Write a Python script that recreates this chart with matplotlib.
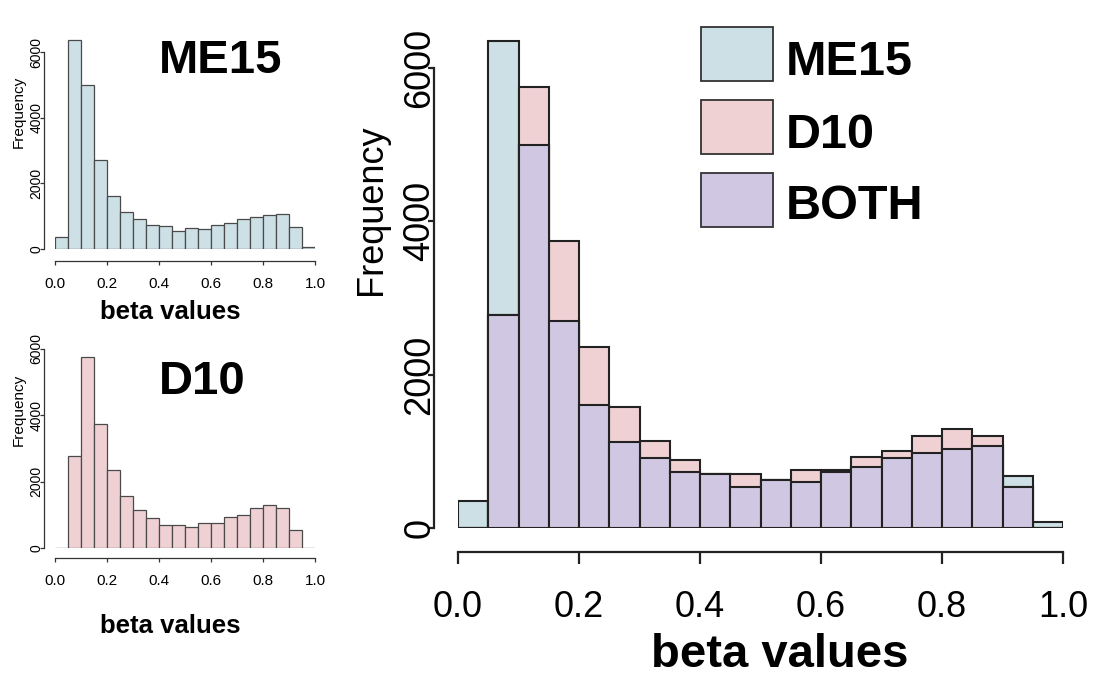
import numpy as np
import matplotlib
matplotlib.use("Agg")
import matplotlib.pyplot as plt
from matplotlib.patches import Rectangle

plt.rcParams['font.family'] = ['Liberation Sans', 'DejaVu Sans']

# histogram counts, 20 bins of width 0.05 over [0, 1]
bin_edges = np.linspace(0.0, 1.0, 21)
me15_counts = [355, 6355, 5000, 2705, 1600, 1120, 915, 730, 704, 535,
               632, 600, 726, 790, 912, 978, 1030, 1072, 672, 72]
d10_counts = [0, 2775, 5750, 3745, 2365, 1580, 1135, 890, 704, 698,
              630, 762, 758, 922, 1005, 1200, 1295, 1200, 540, 0]
x_ticks = [0.0, 0.2, 0.4, 0.6, 0.8, 1.0]
y_ticks = [0, 2000, 4000, 6000]
legend_labels = ["ME15", "D10", "BOTH"]

c_me15 = "#cde0e5"
c_d10 = "#efd1d4"
c_both = "#d0c8e2"

W, H = 1103, 677
fig = plt.figure(figsize=(W / 100, H / 100), dpi=100)
fig.patch.set_facecolor("white")


def px_axes(x0, x1, y0, y6000, ymax=6500):
    # axes where data x 0..1 -> px x0..x1 and y 0 -> y0, 6000 -> y6000
    h = (y0 - y6000) * ymax / 6000.0
    ax = fig.add_axes([x0 / W, 1 - y0 / H, (x1 - x0) / W, h / H])
    ax.set_xlim(0, 1)
    ax.set_ylim(0, ymax)
    ax.patch.set_alpha(0)
    for s in ["top", "right"]:
        ax.spines[s].set_visible(False)
    ax.spines["left"].set_bounds(0, 6000)
    ax.spines["bottom"].set_bounds(0, 1)
    return ax


def finish_ticks(ax):
    ax.set_xticks(x_ticks)
    ax.set_xticklabels(["%.1f" % t for t in x_ticks])
    ax.set_yticks(y_ticks)
    ax.set_yticklabels([str(t) for t in y_ticks])
    ax.tick_params(axis="y", labelrotation=90)
    for lbl in ax.get_yticklabels():
        lbl.set_horizontalalignment("center")
        lbl.set_verticalalignment("center")


def fx(px):
    return px / W


def fy(px):
    return 1 - px / H


lefts = bin_edges[:-1]
widths = np.diff(bin_edges)

# ---- small ME15 panel
ax1 = px_axes(55, 315, 249, 52)
ax1.bar(lefts, me15_counts, width=widths, align="edge", color=c_me15,
        edgecolor="#4a4a4a", linewidth=0.9)
ax1.spines["left"].set_position(("outward", 8))
ax1.spines["bottom"].set_position(("outward", 8.5))
ax1.tick_params(axis="x", length=3, width=0.9, pad=9, labelsize=11, color="#333")
ax1.tick_params(axis="y", length=3, width=0.9, pad=2.5, labelsize=10, color="#333")
for s in ["left", "bottom"]:
    ax1.spines[s].set_linewidth(0.9)
    ax1.spines[s].set_color("#333")
finish_ticks(ax1)
fig.text(fx(19), fy(112), "Frequency", rotation=90, ha="center", va="center", fontsize=11)
fig.text(fx(170), fy(319), "beta values", ha="center", va="baseline",
         fontsize=18.5, fontweight="bold")
fig.text(fx(221), fy(73), "ME15", ha="center", va="baseline", fontsize=34, fontweight="bold")

# ---- small D10 panel
ax2 = px_axes(55, 315, 548, 349)
ax2.bar(lefts, d10_counts, width=widths, align="edge", color=c_d10,
        edgecolor="#4a4a4a", linewidth=0.9)
ax2.spines["left"].set_position(("outward", 8))
ax2.spines["bottom"].set_position(("outward", 7.5))
ax2.tick_params(axis="x", length=3, width=0.9, pad=8, labelsize=11, color="#333")
ax2.tick_params(axis="y", length=3, width=0.9, pad=2.5, labelsize=10, color="#333")
for s in ["left", "bottom"]:
    ax2.spines[s].set_linewidth(0.9)
    ax2.spines[s].set_color("#333")
finish_ticks(ax2)
fig.text(fx(19), fy(410), "Frequency", rotation=90, ha="center", va="center", fontsize=11)
fig.text(fx(170), fy(633), "beta values", ha="center", va="baseline",
         fontsize=18.5, fontweight="bold")
fig.text(fx(202), fy(394), "D10", ha="center", va="baseline", fontsize=34, fontweight="bold")

# ---- main overlay panel
both_counts = np.minimum(me15_counts, d10_counts)
ax = px_axes(458, 1063, 528, 68)
ec = "#222222"
ax.bar(lefts, me15_counts, width=widths, align="edge", color=c_me15, edgecolor=ec, linewidth=1.5)
ax.bar(lefts, d10_counts, width=widths, align="edge", color=c_d10, edgecolor=ec, linewidth=1.5)
ax.bar(lefts, both_counts, width=widths, align="edge", color=c_both, edgecolor=ec, linewidth=1.5)
ax.spines["left"].set_position(("outward", 17))
ax.spines["bottom"].set_position(("outward", 17.5))
for s in ["left", "bottom"]:
    ax.spines[s].set_linewidth(1.6)
    ax.spines[s].set_color("#222")
ax.tick_params(axis="x", length=8.5, width=1.6, pad=18.5, labelsize=26, color="#222")
ax.tick_params(axis="y", length=4.5, width=1.6, pad=6, labelsize=26, color="#222")
finish_ticks(ax)
fig.text(fx(372), fy(210), "Frequency", rotation=90, ha="center", va="center", fontsize=26)
fig.text(fx(780), fy(667), "beta values", ha="center", va="baseline",
         fontsize=34, fontweight="bold")

# legend drawn in figure pixels
leg_colors = [c_me15, c_d10, c_both]
box_tops = [27, 100, 173]
text_base = [75, 148, 219]
for lab, col, top, base in zip(legend_labels, leg_colors, box_tops, text_base):
    fig.add_artist(Rectangle((fx(701), fy(top + 54)), 72 / W, 54 / H,
                             transform=fig.transFigure, facecolor=col,
                             edgecolor="#333", linewidth=1.3))
    fig.text(fx(786), fy(base), lab, ha="left", va="baseline",
             fontsize=35, fontweight="bold")

fig.savefig("out.png", dpi=100)
